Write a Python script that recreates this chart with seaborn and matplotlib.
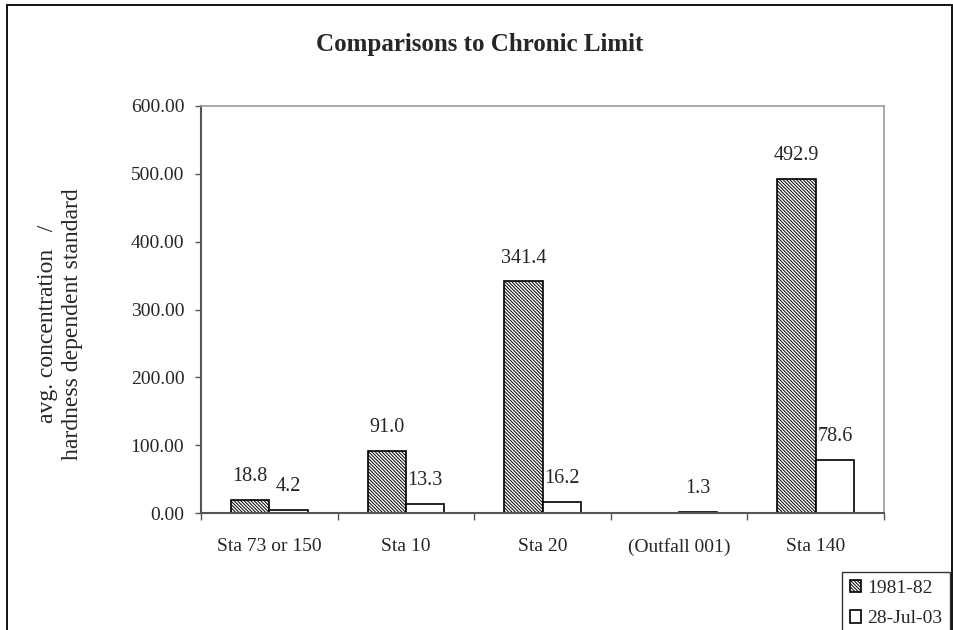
import numpy as np
import pandas as pd
import seaborn as sns
import matplotlib.pyplot as plt
from matplotlib.patches import Rectangle

sns.set_style("white")
plt.rcParams['font.family'] = ['Liberation Serif', 'DejaVu Serif']
plt.rcParams['hatch.linewidth'] = 0.7

stations = ["Sta 73 or 150", "Sta 10", "Sta 20", "(Outfall 001)", "Sta 140"]
periods = ["1981-82", "28-Jul-03"]
vals_1981 = [18.8, 91.0, 341.4, np.nan, 492.9]
vals_2003 = [4.2, 13.3, 16.2, 1.3, 78.6]
yticks = [0, 100, 200, 300, 400, 500, 600]


def make_df():
    rows = []
    for s, v in zip(stations, vals_1981):
        rows.append({"station": s, "period": periods[0], "ratio": v})
    for s, v in zip(stations, vals_2003):
        rows.append({"station": s, "period": periods[1], "ratio": v})
    return pd.DataFrame(rows)


def plot(df):
    fig = plt.figure(figsize=(9.54, 6.3), dpi=100)
    ax = fig.add_axes([201 / 954, 117 / 630, 683 / 954, 407 / 630])
    sns.barplot(data=df, x="station", y="ratio", hue="period",
                order=stations, hue_order=periods,
                palette={"1981-82": "white", "28-Jul-03": "white"},
                edgecolor="black", linewidth=1.2, width=0.56, gap=0,
                legend=False, ax=ax)
    for bar in ax.containers[0]:
        bar.set_hatch("\\" * 10)
    for c in ax.containers:
        ax.bar_label(c, fmt="%.1f", padding=10, fontsize=14.5)

    ax.set_ylim(0, 600)
    ax.set_xlim(-0.5, 4.5)
    ax.set_yticks(yticks)
    ax.set_yticklabels(["%.2f" % t for t in yticks], fontsize=14)
    ax.tick_params(axis="y", length=4, width=1, pad=8, color="#555555",
                   left=True)
    ax.tick_params(axis="x", which="major", length=0, pad=18, labelsize=14)
    ax.set_xticks(np.arange(-0.5, 5, 1), minor=True)
    ax.tick_params(axis="x", which="minor", length=5, width=1,
                   color="#555555", bottom=True)
    ax.set_xlabel("")
    ax.set_ylabel("")
    for side in ["left", "bottom"]:
        ax.spines[side].set_color("#555555")
        ax.spines[side].set_linewidth(1.5)
    for side in ["top", "right"]:
        ax.spines[side].set_color("#999999")
        ax.spines[side].set_linewidth(1.2)

    fig.text(60 / 954, 1 - 324 / 630,
             "avg. concentration   /\nhardness dependent standard",
             rotation=90, ha="center", va="center", fontsize=17,
             linespacing=1.2, multialignment="center")
    fig.text(0.503, 1 - 45 / 630, "Comparisons to Chronic Limit",
             ha="center", va="center", fontsize=18, fontweight="bold")

    leg = fig.legend(ax.containers, periods, loc="upper left",
                     bbox_to_anchor=(842 / 954, 1 - 572 / 630),
                     fontsize=14, frameon=True, fancybox=False,
                     handlelength=0.6, handleheight=0.6, handletextpad=0.3,
                     labelspacing=0.7, borderpad=0.4, borderaxespad=0)
    leg.get_frame().set_edgecolor("black")
    leg.get_frame().set_linewidth(1)

    fig.patches.append(Rectangle((7 / 954, -0.2), 945 / 954, 1.2 - 5 / 630,
                                 transform=fig.transFigure, fill=False,
                                 edgecolor="black", linewidth=1.3))
    fig.savefig("out.png", dpi=100)


def main():
    df = make_df()
    plot(df)


if __name__ == "__main__":
    main()
